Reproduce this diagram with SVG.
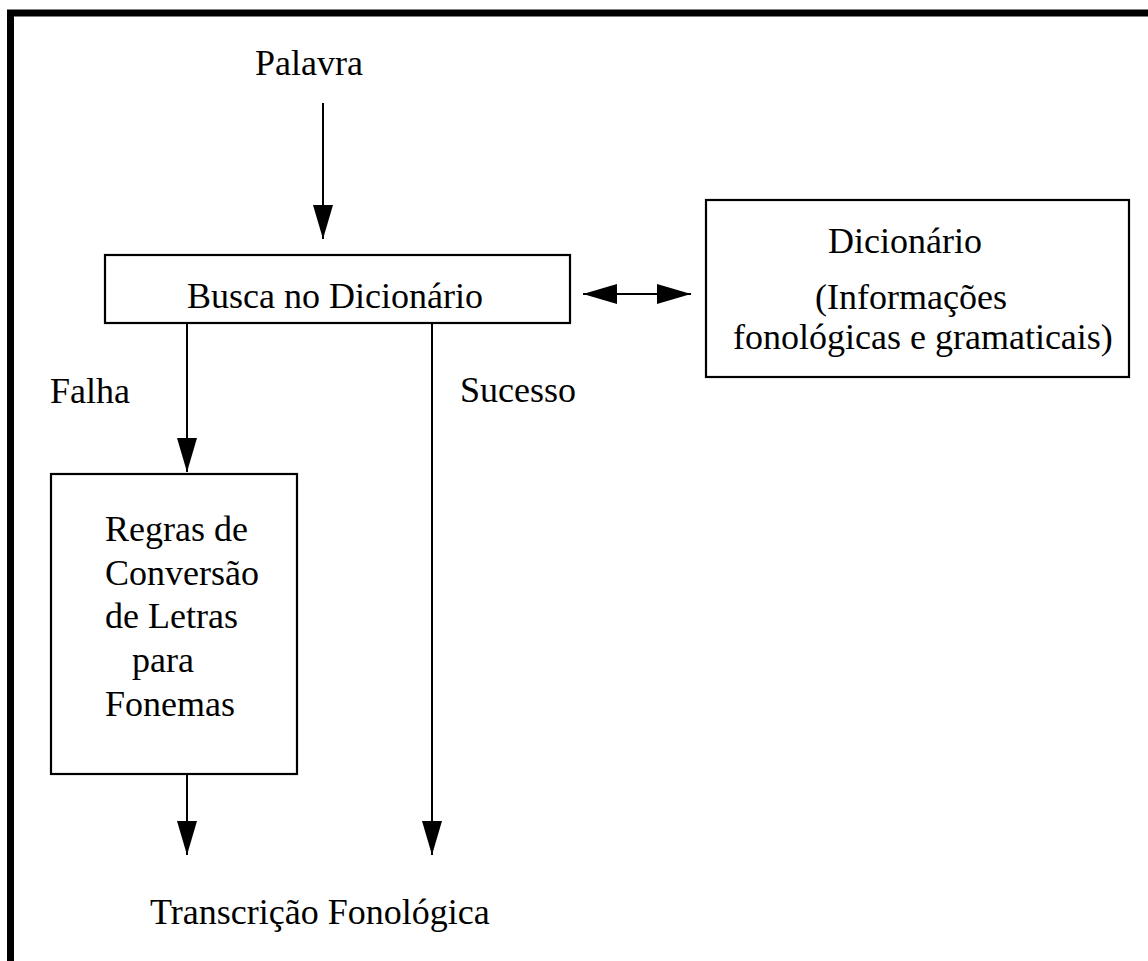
<svg xmlns="http://www.w3.org/2000/svg" width="1148" height="961" viewBox="0 0 1148 961">
<defs>
<marker id="ah" markerUnits="userSpaceOnUse" markerWidth="34" markerHeight="20" refX="34" refY="10" orient="auto-start-reverse" viewBox="0 0 34 20">
<path d="M0,0 L34,10 L0,20 z" fill="#000"/>
</marker>
<style>
text{font-family:"Liberation Serif","Times New Roman",serif;font-size:36px;fill:#000}
.box{fill:#fff;stroke:#000;stroke-width:2.2}
.conn{stroke:#000;stroke-width:2;fill:none}
</style>
</defs>
<rect width="1148" height="961" fill="#fff"/>
<path d="M10.5,961 V13 H1148" fill="none" stroke="#000" stroke-width="7"/>
<g id="connectors">
<line class="conn" x1="323" y1="103" x2="323" y2="239" marker-end="url(#ah)"/>
<line class="conn" x1="583" y1="294" x2="691" y2="294" marker-start="url(#ah)" marker-end="url(#ah)"/>
<line class="conn" x1="187" y1="323" x2="187" y2="472" marker-end="url(#ah)"/>
<line class="conn" x1="432" y1="323" x2="432" y2="855" marker-end="url(#ah)"/>
<line class="conn" x1="187" y1="774" x2="187" y2="855" marker-end="url(#ah)"/>
</g>
<g id="palavra"><text x="255" y="75">Palavra</text></g>
<g id="busca">
<rect class="box" x="105" y="255" width="465" height="68"/>
<text x="187" y="308">Busca no Dicionário</text>
</g>
<g id="dicionario">
<rect class="box" x="706" y="200" width="423" height="177"/>
<text x="828" y="253">Dicionário</text>
<text x="815" y="309">(Informações</text>
<text x="733" y="349">fonológicas e gramaticais)</text>
</g>
<g id="falha"><text x="50" y="403">Falha</text></g>
<g id="sucesso"><text x="460" y="402">Sucesso</text></g>
<g id="regras">
<rect class="box" x="51" y="474" width="246" height="300"/>
<text x="105" y="541">Regras de</text>
<text x="105" y="585">Conversão</text>
<text x="105" y="628">de Letras</text>
<text x="132" y="672">para</text>
<text x="105" y="716">Fonemas</text>
</g>
<g id="transcricao"><text x="150" y="924">Transcrição Fonológica</text></g>
</svg>
